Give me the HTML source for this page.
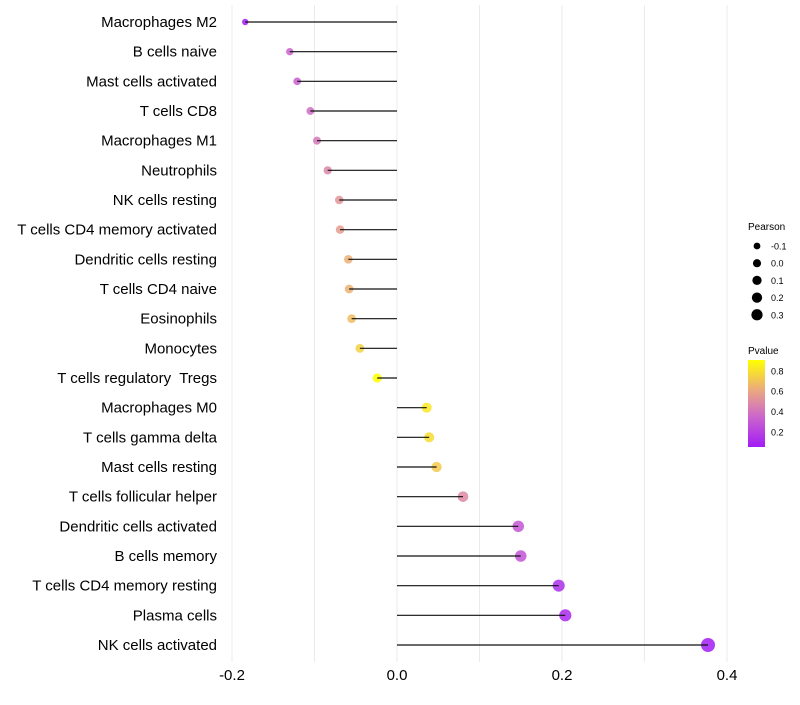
<!DOCTYPE html>
<html><head><meta charset="utf-8"><style>
body{margin:0;background:#fff;font-family:"Liberation Sans",sans-serif}
text{white-space:pre}
</style></head><body>
<svg id="chart" width="800" height="700" xmlns="http://www.w3.org/2000/svg">
<defs><linearGradient id="pg" x1="0" y1="1" x2="0" y2="0">
<stop offset="0" stop-color="#A21CF5"/><stop offset="0.35" stop-color="#CC66CC"/><stop offset="0.65" stop-color="#EBA880"/><stop offset="1" stop-color="#FFFF00"/></linearGradient></defs>
<g id="grid"></g><g id="dots"></g><g id="marks"></g><g id="labels"></g><g id="legend"></g>
</svg>
<script>
const categories=["Macrophages M2","B cells naive","Mast cells activated","T cells CD8","Macrophages M1","Neutrophils","NK cells resting","T cells CD4 memory activated","Dendritic cells resting","T cells CD4 naive","Eosinophils","Monocytes","T cells regulatory  Tregs","Macrophages M0","T cells gamma delta","Mast cells resting","T cells follicular helper","Dendritic cells activated","B cells memory","T cells CD4 memory resting","Plasma cells","NK cells activated"];
const pearson=[-0.184,-0.130,-0.121,-0.105,-0.097,-0.084,-0.070,-0.069,-0.059,-0.058,-0.055,-0.045,-0.024,0.036,0.039,0.048,0.080,0.147,0.150,0.196,0.204,0.377];
const pvalue=[0.05,0.32,0.3,0.36,0.4,0.46,0.52,0.55,0.62,0.63,0.66,0.72,0.88,0.78,0.75,0.7,0.47,0.27,0.26,0.12,0.1,0.05];
const xTicks=[-0.2,0.0,0.2,0.4];
const xTickLabels=["-0.2","0.0","0.2","0.4"];
const sizeLegend=[-0.1,0.0,0.1,0.2,0.3];
const colorLegend=[0.8,0.6,0.4,0.2];
const NS="http://www.w3.org/2000/svg";
const xs=v=>397+v*825;
const ys=i=>22+i*(623/21);
const rs=v=>{const a=22.9+69.2*v;return a<8?Math.max(1.5,Math.sqrt(Math.max(0,(a-4)))):Math.sqrt(a);};
function col(p){
 const st=[[0.05,[162,28,245]],[0.33,[204,102,204]],[0.6,[235,168,128]],[0.85,[255,255,0]]];
 p=Math.max(0.05,Math.min(0.85,p));
 for(let k=0;k<st.length-1;k++){const a=st[k],b=st[k+1];if(p<=b[0]){const t=(p-a[0])/(b[0]-a[0]);return "rgb("+a[1].map((c,j)=>Math.round(c+(b[1][j]-c)*t)).join(",")+")";}}
 return "rgb(255,255,0)";
}
function mk(t,at,par){const e=document.createElementNS(NS,t);for(const k in at)e.setAttribute(k,at[k]);document.getElementById(par).appendChild(e);return e;}
for(let v=-0.2;v<=0.41;v+=0.1){const g=mk("line",{x1:xs(v),x2:xs(v),y1:5,y2:662,stroke:"#ebebeb","stroke-width":1},"grid");

}
xTicks.forEach((t,i)=>{const e=mk("text",{x:xs(t),y:680,"text-anchor":"middle","font-size":15,fill:"#000"},"labels");e.textContent=xTickLabels[i];

});
categories.forEach((c,i)=>{
 const y=ys(i);
 const d=mk("circle",{cx:xs(pearson[i]),cy:y,r:rs(pearson[i]),fill:col(pvalue[i]),"fill-opacity":0.85},"dots");
 
 
 const l=mk("line",{x1:xs(0),x2:xs(pearson[i]),y1:y,y2:y,stroke:"#111","stroke-width":1.2},"marks");
 
 
 const t=mk("text",{x:217,y:y+5,"text-anchor":"end","font-size":15,fill:"#000"},"labels");t.textContent=c;
 
 
});
const lt=mk("text",{x:748,y:230,"font-size":10},"legend");lt.textContent="Pearson";


sizeLegend.forEach((v,i)=>{const y=246+i*17.2;
 const c=mk("circle",{cx:757,cy:y,r:rs(v)*0.85,fill:"#000"},"legend");
 
 
 const t=mk("text",{x:771,y:y+3.5,"font-size":9},"legend");t.textContent=v.toFixed(1);
 
 });
const pt=mk("text",{x:748,y:354,"font-size":10},"legend");pt.textContent="Pvalue";


const bar=mk("rect",{x:748,y:360,width:17,height:87,fill:"url(#pg)"},"legend");


colorLegend.forEach(v=>{const y=447-(v-0.05)/0.2*20.3;
 const t=mk("text",{x:771,y:y+3.5,"font-size":9},"legend");t.textContent=v.toFixed(1);
 
 });
</script>
</body></html>
